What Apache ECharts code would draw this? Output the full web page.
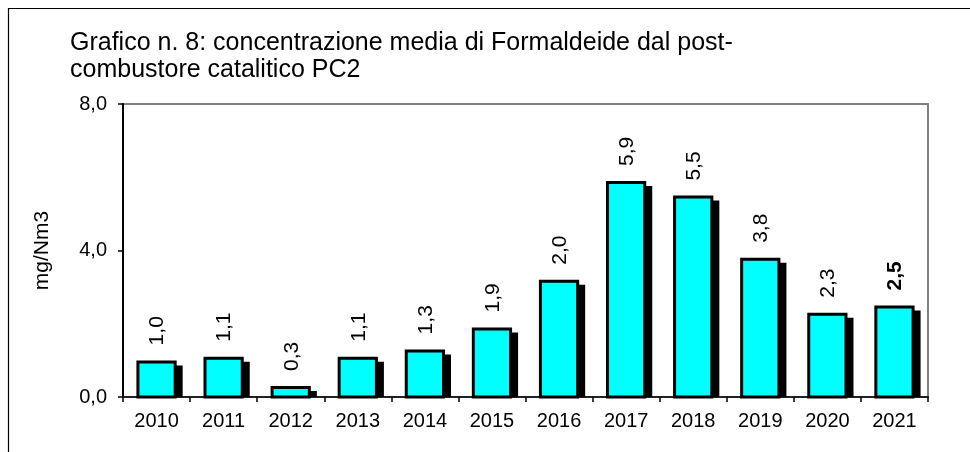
<!DOCTYPE html>
<html>
<head>
<meta charset="utf-8">
<script src="https://cdn.jsdelivr.net/npm/echarts@6/dist/echarts.min.js"></script>
<style>
html,body{margin:0;padding:0;background:#fff;}
#chart{width:970px;height:452px;}
</style>
</head>
<body>
<div id="chart"></div>
<script>
const years = ['2010','2011','2012','2013','2014','2015','2016','2017','2018','2019','2020','2021'];
const barHeights = [1.0, 1.1, 0.3, 1.1, 1.3, 1.9, 3.2, 5.9, 5.5, 3.8, 2.3, 2.5];
const barLabels = ['1,0','1,1','0,3','1,1','1,3','1,9','2,0','5,9','5,5','3,8','2,3','2,5'];
const boldLabels = [false,false,false,false,false,false,false,false,false,false,false,true];
const yTickValues = [0, 4, 8];
const yTickLabels = ['0,0', '4,0', '8,0'];
const titleLines = ['Grafico n. 8: concentrazione media di Formaldeide dal post-', 'combustore catalitico PC2'];
const yAxisName = 'mg/Nm3';

const FONT = 'Liberation Sans, Arial, sans-serif';
const chart = echarts.init(document.getElementById('chart'), null, {renderer: 'canvas'});

chart.setOption({
  animation: false,
  backgroundColor: '#ffffff',
  title: {
    text: titleLines.join('\n'),
    left: 65, top: 25,
    textStyle: {fontFamily: FONT, fontSize: 25, fontWeight: 'normal', color: '#000', lineHeight: 27}
  },
  graphic: [{
    type: 'rect', silent: true,
    shape: {x: 8.5, y: 8.5, width: 1000, height: 500},
    style: {fill: 'none', stroke: '#000', lineWidth: 1.2}
  }],
  grid: {left: 123, right: 42, top: 104, bottom: 55, show: true, borderColor: '#808080', borderWidth: 2, backgroundColor: 'transparent'},
  xAxis: {
    type: 'category', data: years, boundaryGap: true,
    axisLine: {show: true, lineStyle: {color: '#222', width: 2}},
    axisTick: {show: true, inside: false, length: 5, alignWithLabel: false, lineStyle: {color: '#000', width: 1.5}},
    axisLabel: {fontFamily: FONT, fontSize: 20, color: '#000', margin: 14},
    splitLine: {show: false}
  },
  yAxis: {
    type: 'value', min: 0, max: 8, interval: 4,
    name: yAxisName, nameLocation: 'middle', nameRotate: 90, nameGap: 70,
    nameTextStyle: {fontFamily: FONT, fontSize: 21, color: '#000'},
    axisLine: {show: true, lineStyle: {color: '#000', width: 2}},
    axisTick: {show: true, length: 5, lineStyle: {color: '#000', width: 1.5}},
    axisLabel: {fontFamily: FONT, fontSize: 20, color: '#000', margin: 16,
      formatter: function (v) { const i = yTickValues.indexOf(v); return i >= 0 ? yTickLabels[i] : ''; }},
    splitLine: {show: false}
  },
  series: [{
    type: 'custom',
    data: barHeights.map((v, i) => [i, v]),
    renderItem: function (params, api) {
      const idx = api.value(0);
      const val = api.value(1);
      const top = api.coord([idx, val]);
      const base = api.coord([idx, 0]);
      const band = api.size([1, 0])[0];
      const w = band * 0.6;
      const cx = top[0];
      const lw = 3;
      const x0 = cx - w / 2;
      return {
        type: 'group',
        children: [
          {type: 'rect', shape: {x: x0 + 6, y: top[1] + 5, width: w, height: Math.max(0, base[1] - top[1] - 5)},
           style: {fill: '#000'}},
          {type: 'rect', shape: {x: x0 + lw / 2, y: top[1] + lw / 2, width: w - lw, height: base[1] - top[1] - lw / 2},
           style: {fill: '#00ffff', stroke: '#000', lineWidth: lw}},
          {type: 'text', x: cx + 1, y: top[1] - 15, rotation: Math.PI / 2,
           style: {text: barLabels[idx], fontFamily: FONT, fontSize: 21,
                   fontWeight: boldLabels[idx] ? 'bold' : 'normal',
                   fill: '#000', align: 'left', verticalAlign: 'middle'}}
        ]
      };
    }
  }]
});
</script>
</body>
</html>
